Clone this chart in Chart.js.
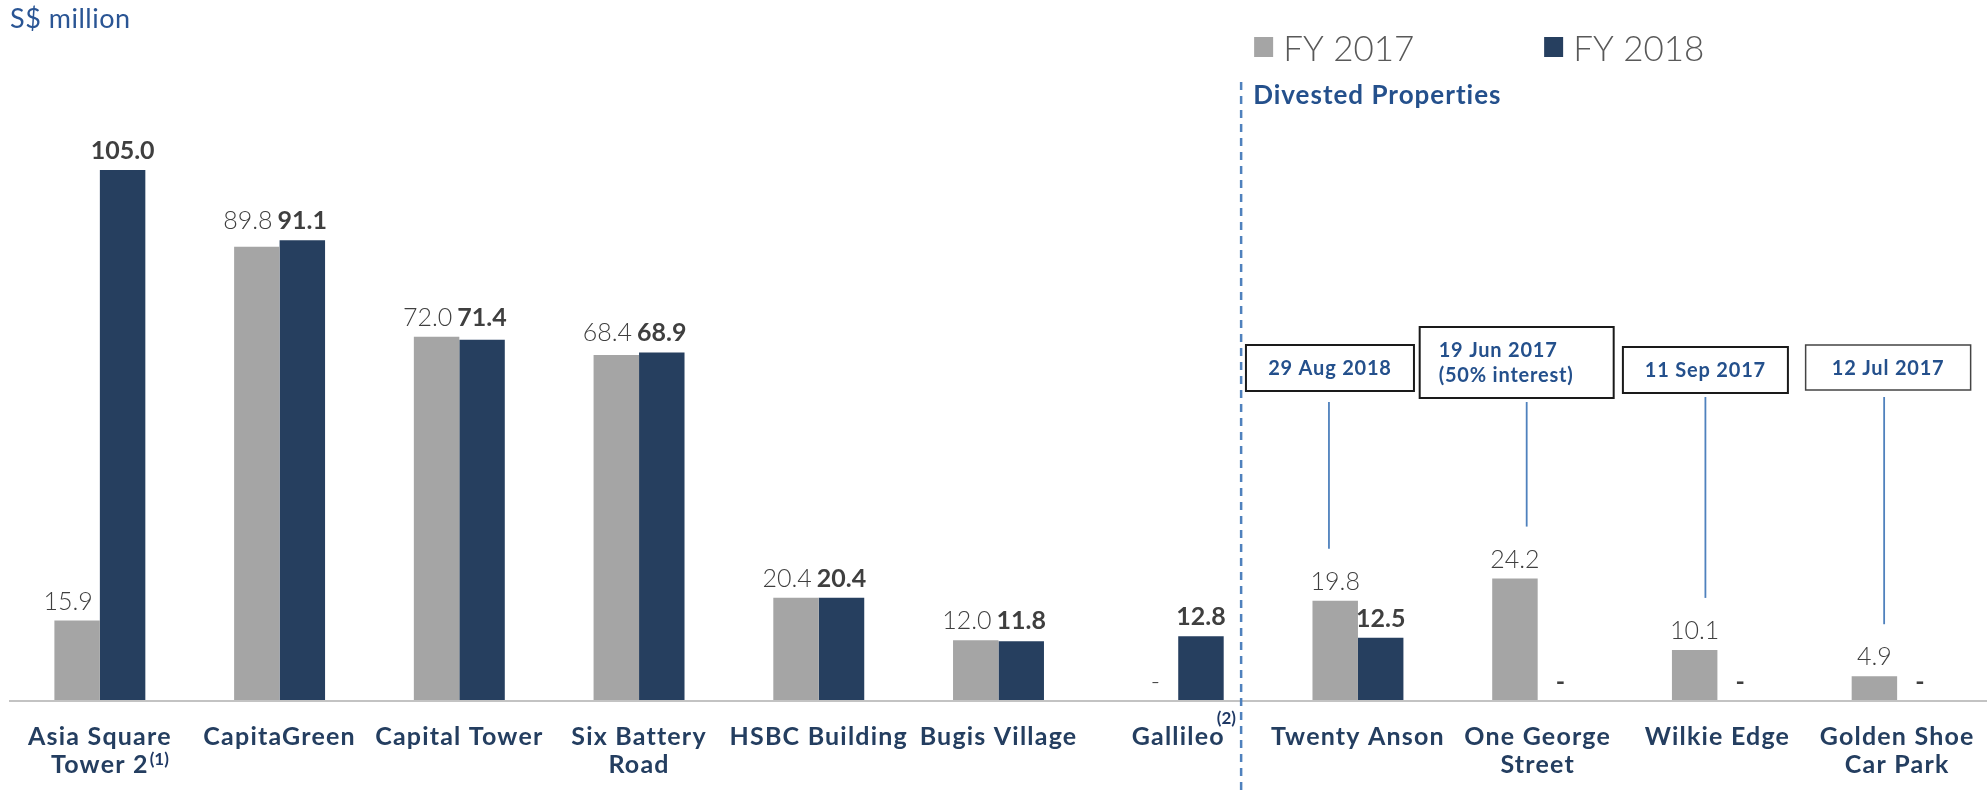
<!DOCTYPE html>
<html><head><meta charset="utf-8">
<script src="https://cdn.jsdelivr.net/npm/chart.js@4.4.1/dist/chart.umd.min.js"></script>
<style>html,body{margin:0;padding:0;background:#fff;overflow:hidden}#wrap{width:1987px;height:795px;position:relative}</style>
</head><body><div id="wrap"><canvas id="c" width="1987" height="795"></canvas></div>
<script>
// ---- data ----
const categories = [["Asia Square","Tower 2"],["CapitaGreen"],["Capital Tower"],["Six Battery","Road"],["HSBC Building"],["Bugis Village"],["Gallileo"],["Twenty Anson"],["One George","Street"],["Wilkie Edge"],["Golden Shoe","Car Park"]];
const footnotes = ["(1)","","","","","","(2)","","","",""];
const fy2017 = [15.9, 89.8, 72.0, 68.4, 20.4, 12.0, 0, 19.8, 24.2, 10.1, 4.9];
const fy2018 = [105.0, 91.1, 71.4, 68.9, 20.4, 11.8, 12.8, 12.5, 0, 0, 0];
const seriesNames = ["FY 2017", "FY 2018"];
const divestedStart = 7;
const divestDates = [["29 Aug 2018"], ["19 Jun 2017", "(50% interest)"], ["11 Sep 2017"], ["12 Jul 2017"]];
const yMax = 120;
const unitLabel = "S$ million";
const groupTitle = "Divested Properties";

// ---- style ----
const GRAY = "#a5a5a5", NAVY = "#263f5f";
const LABEL_COL = "#3f3f3f", CAT_COL = "#243e60", BLUE_TXT = "#24508c", LINE_BLUE = "#4f81bd";
const FONT = "Lato, 'Open Sans', sans-serif";

function fmt(v){ return v ? v.toFixed(1) : "-"; }

const overlay = {
  id: "overlay",
  afterDatasetsDraw(chart){
    const ctx = chart.ctx, ca = chart.chartArea;
    const xs = chart.scales.x;
    const m0 = chart.getDatasetMeta(0).data, m1 = chart.getDatasetMeta(1).data;
    ctx.save();
    // axis line
    ctx.strokeStyle = "#c3c3c3"; ctx.lineWidth = 2;
    ctx.beginPath(); ctx.moveTo(ca.left - 1, ca.bottom); ctx.lineTo(ca.right, ca.bottom); ctx.stroke();

    // value labels
    ctx.textBaseline = "alphabetic";
    for (let i = 0; i < categories.length; i++) {
      const a = m0[i], b = m1[i], v0 = fy2017[i], v1 = fy2018[i];
      let y0 = a.y - 11, y1 = b.y - 11;
      const paired = v0 && v1 && Math.abs(v0 - v1) < 5;
      if (paired) { y0 = y1 = Math.min(a.y, b.y) - 11; }
      ctx.fillStyle = LABEL_COL;
      ctx.font = "300 25px " + FONT;
      if (v0 && v1 && v1 >= v0 - 5) { ctx.textAlign = "right"; ctx.fillText(fmt(v0), a.x + a.width/2 - 7, y0); }
      else { ctx.textAlign = "center"; ctx.fillText(fmt(v0), a.x, y0); }
      ctx.font = "bold 25px " + FONT;
      ctx.textAlign = "center"; ctx.fillText(fmt(v1), b.x, y1);
    }

    // category labels
    ctx.fillStyle = CAT_COL;
    for (let i = 0; i < categories.length; i++) {
      const cx = xs.getPixelForValue(i);
      const lines = categories[i];
      ctx.font = "bold 25px " + FONT;
      ctx.letterSpacing = "1.2px";
      ctx.textAlign = "center";
      lines.forEach((t, k) => ctx.fillText(t, cx, 745 + k * 28));
      if (footnotes[i]) {
        const last = lines[lines.length - 1];
        const w = ctx.measureText(last).width;
        const yb = 745 + (lines.length - 1) * 28;
        ctx.letterSpacing = "0px";
        ctx.font = "bold 17px " + FONT;
        ctx.fillStyle = "#1f3864";
        ctx.textAlign = "left";
        if (lines.length > 1) ctx.fillText(footnotes[i], cx + w/2 + 1, yb - 8);
        else ctx.fillText(footnotes[i], cx + w/2 - 8, yb - 21);
        ctx.fillStyle = CAT_COL;
      }
    }
    ctx.letterSpacing = "0px";

    // divider
    const c6 = xs.getPixelForValue(divestedStart - 1), c7 = xs.getPixelForValue(divestedStart);
    const dx = c6 + 0.35 * (c7 - c6);
    ctx.strokeStyle = LINE_BLUE; ctx.lineWidth = 2.5; ctx.setLineDash([8, 6]);
    ctx.beginPath(); ctx.moveTo(dx, 82); ctx.lineTo(dx, 795); ctx.stroke();
    ctx.setLineDash([]);

    // group title
    ctx.fillStyle = BLUE_TXT; ctx.font = "bold 26px " + FONT; ctx.textAlign = "left";
    ctx.letterSpacing = "1px";
    ctx.fillText(groupTitle, dx + 12, 104);
    ctx.letterSpacing = "0px";

    // legend
    const legX = [dx + 13, dx + 303];
    const cols = [GRAY, NAVY];
    ctx.font = "300 35px " + FONT;
    for (let s = 0; s < 2; s++) {
      ctx.fillStyle = cols[s]; ctx.fillRect(legX[s], 37, 19, 20);
      ctx.fillStyle = "#595959"; ctx.fillText(seriesNames[s], legX[s] + 29, 61);
    }

    // unit
    ctx.fillStyle = "#2a5594"; ctx.font = "400 27px " + FONT;
    ctx.letterSpacing = "0.5px";
    ctx.fillText(unitLabel, 10, 28);
    ctx.letterSpacing = "0px";

    // annotation boxes
    const boxOff = [-28, -21, -12, -9], lineOff = [-29, -11, -12, -13];
    const boxW = [168, 194, 165, 165], boxH = [46, 71, 46, 45], boxTop = [345, 327, 347, 345];
    const lineTop = [402, 402, 397, 397];
    for (let k = 0; k < divestDates.length; k++) {
      const i = divestedStart + k;
      const cx = xs.getPixelForValue(i);
      const bx = cx + boxOff[k] - boxW[k]/2;
      ctx.strokeStyle = k === 3 ? "#444" : "#1a1a1a"; ctx.lineWidth = k === 3 ? 1.5 : 2;
      ctx.strokeRect(bx, boxTop[k], boxW[k], boxH[k]);
      ctx.fillStyle = BLUE_TXT; ctx.font = "bold 20px " + FONT;
      ctx.letterSpacing = "0.8px";
      const lines = divestDates[k];
      if (lines.length === 1) {
        ctx.textAlign = "center"; ctx.textBaseline = "middle";
        ctx.fillText(lines[0], bx + boxW[k]/2, boxTop[k] + boxH[k]/2 + 1);
      } else {
        ctx.textAlign = "left"; ctx.textBaseline = "alphabetic";
        lines.forEach((t, j) => ctx.fillText(t, bx + 19, boxTop[k] + 30 + j * 25));
      }
      ctx.letterSpacing = "0px";
      ctx.textBaseline = "alphabetic";
      const lx = cx + lineOff[k];
      ctx.strokeStyle = LINE_BLUE; ctx.lineWidth = 1.8;
      ctx.beginPath(); ctx.moveTo(lx, lineTop[k]); ctx.lineTo(lx, m0[i].y - 52); ctx.stroke();
    }
    ctx.restore();
  }
};

new Chart(document.getElementById("c"), {
  type: "bar",
  data: {
    labels: categories.map(l => l.join(" ")),
    datasets: [
      { label: seriesNames[0], data: fy2017, backgroundColor: GRAY },
      { label: seriesNames[1], data: fy2018, backgroundColor: NAVY }
    ]
  },
  options: {
    responsive: false, animation: false, devicePixelRatio: 1,
    layout: { padding: { top: 94, bottom: 94, left: 10, right: 0 } },
    datasets: { bar: { categoryPercentage: 0.506, barPercentage: 1.0 } },
    scales: {
      x: { display: false },
      y: { display: false, min: 0, max: yMax }
    },
    plugins: { legend: { display: false }, tooltip: { enabled: false } }
  },
  plugins: [overlay]
});
</script></body></html>
